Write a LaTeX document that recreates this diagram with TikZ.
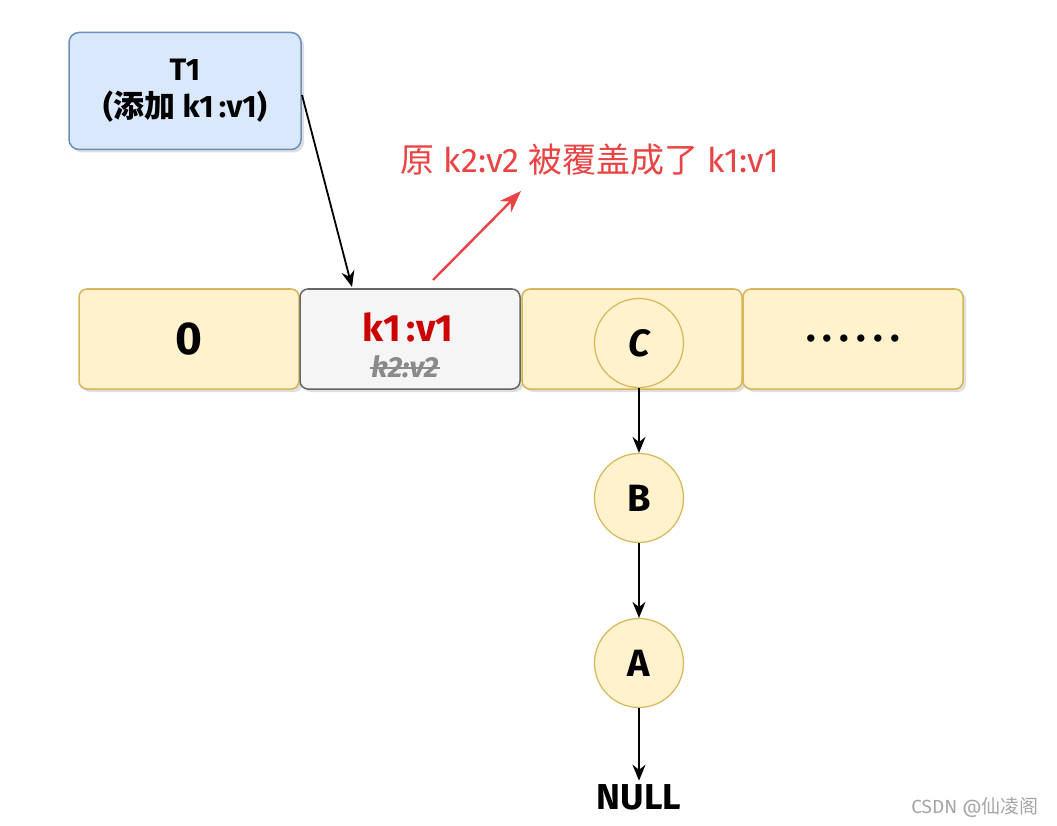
\documentclass[tikz,border=0pt]{standalone}
\usepackage{fontspec}
\setmainfont{Fira Sans}
\newfontfamily\cjk{Noto Sans CJK SC}
\usetikzlibrary{shadows,arrows.meta}
\definecolor{bluefill}{HTML}{DAE8FC}
\definecolor{blueline}{HTML}{6C8EBF}
\definecolor{yelfill}{HTML}{FFF2CC}
\definecolor{yelline}{HTML}{D6B656}
\definecolor{greyfill}{HTML}{F5F5F5}
\definecolor{greyline}{HTML}{666666}
\definecolor{kred}{HTML}{CC0000}
\definecolor{annred}{HTML}{EA4343}
\definecolor{strikegrey}{HTML}{8A8A8A}
\begin{document}
\begin{tikzpicture}[x=1pt,y=-1pt,
  cell/.style={draw=yelline,fill=yelfill,line width=1.5pt,rounded corners=8pt,
    minimum width=220pt,minimum height=100pt,inner sep=0pt,
    drop shadow={shadow xshift=3pt,shadow yshift=-3pt,opacity=0.25}},
  greycell/.style={cell,draw=greyline,fill=greyfill},
  tbox/.style={draw=blueline,fill=bluefill,line width=1.5pt,rounded corners=10pt,
    minimum width=232pt,minimum height=117pt,inner sep=0pt,align=center,
    drop shadow={shadow xshift=3pt,shadow yshift=-3pt,opacity=0.25}},
  ball/.style={circle,draw=yelline,fill=yelfill,line width=1.2pt,minimum size=89pt,inner sep=0pt,
    font=\fontsize{38}{38}\selectfont\bfseries},
  arr/.style={-{Stealth[length=16pt,width=13pt]},line width=1.8pt,black},
  redarr/.style={-{Stealth[length=22pt,width=16pt]},line width=2.4pt,annred}]
\useasboundingbox (0,0) rectangle (1057,826);
\fill[white] (0,0) rectangle (1057,826);

\node[tbox,font=\fontsize{31}{37}\selectfont\bfseries] (t1) at (185,91)
  {T1\\({\cjk 添加} k1\,:v1)};

\node[cell,font=\fontsize{46}{46}\selectfont\bfseries] (c0) at (189,339) {0};
\node[greycell] (c1) at (410,339) {};
\node[cell] (c2) at (632,339) {};
\node[cell,font=\fontsize{40}{40}\selectfont\bfseries] (c3) at (853,339) {.\hspace{0.18em}.\hspace{0.18em}.\hspace{0.18em}.\hspace{0.18em}.\hspace{0.18em}.};

\node[text=kred,font=\fontsize{38}{38}\selectfont\bfseries] (kv1) at (408,327) {k1\,:v1};
\node[text=strikegrey,font=\fontsize{29}{29}\selectfont\bfseries\itshape,inner sep=1pt] (kv2) at (405,367) {k2:v2};
\draw[strikegrey,line width=2.5pt] ([yshift=-1pt]kv2.west) -- ([yshift=-1pt]kv2.east);

\node[ball] (C) at (639,343) {\itshape C};
\node[ball] (B) at (639,498) {B};
\node[ball] (A) at (639,663) {A};
\node[font=\fontsize{36}{36}\selectfont\bfseries] (null) at (639,797) {NULL};

\coordinate (t1out) at (302,95);
\coordinate (k1in) at (352,287);
\draw[arr] (t1out) -- (k1in);

\node[text=annred,font=\fontsize{34}{34}\selectfont] (ann) at (590,160)
  {{\cjk 原} k2:v2 {\cjk 被覆盖成了} k1:v1};
\coordinate (rs) at (433,280);
\coordinate (re) at (521,191);
\draw[redarr] (rs) -- (re);

\draw[arr] (C) -- (B);
\draw[arr] (B) -- (A);
\draw[arr] (A) -- (null);

\node[text=gray!70,font=\fontsize{19}{19}\selectfont] (wm) at (975,807)
  {CSDN @{\cjk 仙凌阁}};
\end{tikzpicture}
\end{document}
